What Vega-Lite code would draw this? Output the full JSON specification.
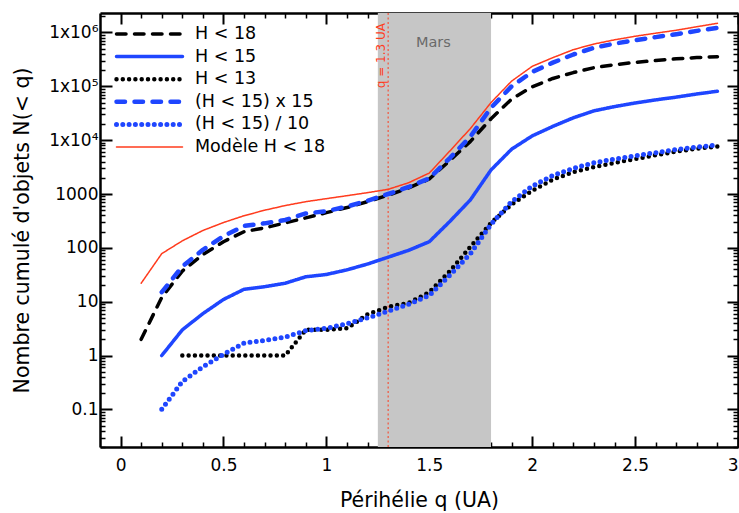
{
  "$schema": "https://vega.github.io/schema/vega-lite/v6.json",
  "width": 638,
  "height": 434,
  "autosize": {"type": "none"},
  "padding": {"left": 100, "top": 13, "right": 1, "bottom": 66},
  "config": {
    "font": "DejaVu Sans",
    "view": {"stroke": null},
    "axis": {"grid": false, "tickColor": "black", "domainColor": "black", "labelColor": "black", "titleColor": "black", "labelFont": "DejaVu Sans", "titleFont": "DejaVu Sans", "titleFontWeight": "normal"}
  },
  "datasets": {
    "courbes": [
      {"q": 0.1, "N": 2, "serie": "H < 18"},
      {"q": 0.2, "N": 12, "serie": "H < 18"},
      {"q": 0.3, "N": 37, "serie": "H < 18"},
      {"q": 0.4, "N": 75, "serie": "H < 18"},
      {"q": 0.5, "N": 130, "serie": "H < 18"},
      {"q": 0.6, "N": 200, "serie": "H < 18"},
      {"q": 0.7, "N": 235, "serie": "H < 18"},
      {"q": 0.8, "N": 290, "serie": "H < 18"},
      {"q": 0.9, "N": 360, "serie": "H < 18"},
      {"q": 1.0, "N": 450, "serie": "H < 18"},
      {"q": 1.1, "N": 560, "serie": "H < 18"},
      {"q": 1.2, "N": 720, "serie": "H < 18"},
      {"q": 1.3, "N": 950, "serie": "H < 18"},
      {"q": 1.4, "N": 1300, "serie": "H < 18"},
      {"q": 1.5, "N": 1900, "serie": "H < 18"},
      {"q": 1.6, "N": 4200, "serie": "H < 18"},
      {"q": 1.7, "N": 9500, "serie": "H < 18"},
      {"q": 1.8, "N": 25000, "serie": "H < 18"},
      {"q": 1.9, "N": 58000, "serie": "H < 18"},
      {"q": 2.0, "N": 98000, "serie": "H < 18"},
      {"q": 2.1, "N": 140000, "serie": "H < 18"},
      {"q": 2.2, "N": 180000, "serie": "H < 18"},
      {"q": 2.3, "N": 222000, "serie": "H < 18"},
      {"q": 2.4, "N": 252000, "serie": "H < 18"},
      {"q": 2.5, "N": 278000, "serie": "H < 18"},
      {"q": 2.6, "N": 302000, "serie": "H < 18"},
      {"q": 2.7, "N": 324000, "serie": "H < 18"},
      {"q": 2.8, "N": 342000, "serie": "H < 18"},
      {"q": 2.9, "N": 356000, "serie": "H < 18"},

      {"q": 0.2, "N": 1, "serie": "H < 15"},
      {"q": 0.3, "N": 3, "serie": "H < 15"},
      {"q": 0.4, "N": 6, "serie": "H < 15"},
      {"q": 0.5, "N": 11, "serie": "H < 15"},
      {"q": 0.6, "N": 17, "serie": "H < 15"},
      {"q": 0.7, "N": 19, "serie": "H < 15"},
      {"q": 0.8, "N": 22, "serie": "H < 15"},
      {"q": 0.9, "N": 29, "serie": "H < 15"},
      {"q": 1.0, "N": 32, "serie": "H < 15"},
      {"q": 1.1, "N": 39, "serie": "H < 15"},
      {"q": 1.2, "N": 50, "serie": "H < 15"},
      {"q": 1.3, "N": 67, "serie": "H < 15"},
      {"q": 1.4, "N": 90, "serie": "H < 15"},
      {"q": 1.5, "N": 130, "serie": "H < 15"},
      {"q": 1.6, "N": 310, "serie": "H < 15"},
      {"q": 1.7, "N": 780, "serie": "H < 15"},
      {"q": 1.8, "N": 2800, "serie": "H < 15"},
      {"q": 1.9, "N": 6800, "serie": "H < 15"},
      {"q": 2.0, "N": 12000, "serie": "H < 15"},
      {"q": 2.1, "N": 18000, "serie": "H < 15"},
      {"q": 2.2, "N": 26000, "serie": "H < 15"},
      {"q": 2.3, "N": 35000, "serie": "H < 15"},
      {"q": 2.4, "N": 42000, "serie": "H < 15"},
      {"q": 2.5, "N": 49000, "serie": "H < 15"},
      {"q": 2.6, "N": 56000, "serie": "H < 15"},
      {"q": 2.7, "N": 63000, "serie": "H < 15"},
      {"q": 2.8, "N": 72000, "serie": "H < 15"},
      {"q": 2.9, "N": 81000, "serie": "H < 15"},

      {"q": 0.2, "N": 15, "serie": "(H < 15) x 15"},
      {"q": 0.3, "N": 45, "serie": "(H < 15) x 15"},
      {"q": 0.4, "N": 92, "serie": "(H < 15) x 15"},
      {"q": 0.5, "N": 165, "serie": "(H < 15) x 15"},
      {"q": 0.6, "N": 255, "serie": "(H < 15) x 15"},
      {"q": 0.7, "N": 285, "serie": "(H < 15) x 15"},
      {"q": 0.8, "N": 330, "serie": "(H < 15) x 15"},
      {"q": 0.9, "N": 435, "serie": "(H < 15) x 15"},
      {"q": 1.0, "N": 480, "serie": "(H < 15) x 15"},
      {"q": 1.1, "N": 585, "serie": "(H < 15) x 15"},
      {"q": 1.2, "N": 750, "serie": "(H < 15) x 15"},
      {"q": 1.3, "N": 1000, "serie": "(H < 15) x 15"},
      {"q": 1.4, "N": 1350, "serie": "(H < 15) x 15"},
      {"q": 1.5, "N": 1950, "serie": "(H < 15) x 15"},
      {"q": 1.6, "N": 4650, "serie": "(H < 15) x 15"},
      {"q": 1.7, "N": 11700, "serie": "(H < 15) x 15"},
      {"q": 1.8, "N": 40000, "serie": "(H < 15) x 15"},
      {"q": 1.9, "N": 100000, "serie": "(H < 15) x 15"},
      {"q": 2.0, "N": 185000, "serie": "(H < 15) x 15"},
      {"q": 2.1, "N": 275000, "serie": "(H < 15) x 15"},
      {"q": 2.2, "N": 390000, "serie": "(H < 15) x 15"},
      {"q": 2.3, "N": 520000, "serie": "(H < 15) x 15"},
      {"q": 2.4, "N": 620000, "serie": "(H < 15) x 15"},
      {"q": 2.5, "N": 720000, "serie": "(H < 15) x 15"},
      {"q": 2.6, "N": 820000, "serie": "(H < 15) x 15"},
      {"q": 2.7, "N": 930000, "serie": "(H < 15) x 15"},
      {"q": 2.8, "N": 1070000, "serie": "(H < 15) x 15"},
      {"q": 2.9, "N": 1220000, "serie": "(H < 15) x 15"},

      {"q": 0.1, "N": 22, "serie": "Modèle H < 18"},
      {"q": 0.2, "N": 78, "serie": "Modèle H < 18"},
      {"q": 0.3, "N": 135, "serie": "Modèle H < 18"},
      {"q": 0.4, "N": 210, "serie": "Modèle H < 18"},
      {"q": 0.5, "N": 295, "serie": "Modèle H < 18"},
      {"q": 0.6, "N": 395, "serie": "Modèle H < 18"},
      {"q": 0.7, "N": 500, "serie": "Modèle H < 18"},
      {"q": 0.8, "N": 610, "serie": "Modèle H < 18"},
      {"q": 0.9, "N": 720, "serie": "Modèle H < 18"},
      {"q": 1.0, "N": 820, "serie": "Modèle H < 18"},
      {"q": 1.1, "N": 930, "serie": "Modèle H < 18"},
      {"q": 1.2, "N": 1060, "serie": "Modèle H < 18"},
      {"q": 1.3, "N": 1220, "serie": "Modèle H < 18"},
      {"q": 1.4, "N": 1620, "serie": "Modèle H < 18"},
      {"q": 1.5, "N": 2450, "serie": "Modèle H < 18"},
      {"q": 1.6, "N": 6300, "serie": "Modèle H < 18"},
      {"q": 1.7, "N": 16500, "serie": "Modèle H < 18"},
      {"q": 1.8, "N": 50000, "serie": "Modèle H < 18"},
      {"q": 1.9, "N": 125000, "serie": "Modèle H < 18"},
      {"q": 2.0, "N": 235000, "serie": "Modèle H < 18"},
      {"q": 2.1, "N": 340000, "serie": "Modèle H < 18"},
      {"q": 2.2, "N": 480000, "serie": "Modèle H < 18"},
      {"q": 2.3, "N": 610000, "serie": "Modèle H < 18"},
      {"q": 2.4, "N": 730000, "serie": "Modèle H < 18"},
      {"q": 2.5, "N": 850000, "serie": "Modèle H < 18"},
      {"q": 2.6, "N": 970000, "serie": "Modèle H < 18"},
      {"q": 2.7, "N": 1100000, "serie": "Modèle H < 18"},
      {"q": 2.8, "N": 1280000, "serie": "Modèle H < 18"},
      {"q": 2.9, "N": 1480000, "serie": "Modèle H < 18"},

      {"q": 0.3, "N": 1, "serie": "H < 13"},
      {"q": 0.4, "N": 1, "serie": "H < 13"},
      {"q": 0.5, "N": 1, "serie": "H < 13"},
      {"q": 0.6, "N": 1, "serie": "H < 13"},
      {"q": 0.7, "N": 1, "serie": "H < 13"},
      {"q": 0.8, "N": 1, "serie": "H < 13"},
      {"q": 0.9, "N": 3, "serie": "H < 13"},
      {"q": 1.0, "N": 3, "serie": "H < 13"},
      {"q": 1.1, "N": 3.2, "serie": "H < 13"},
      {"q": 1.2, "N": 5.8, "serie": "H < 13"},
      {"q": 1.3, "N": 8, "serie": "H < 13"},
      {"q": 1.4, "N": 9.5, "serie": "H < 13"},
      {"q": 1.5, "N": 15, "serie": "H < 13"},
      {"q": 1.6, "N": 37, "serie": "H < 13"},
      {"q": 1.7, "N": 105, "serie": "H < 13"},
      {"q": 1.8, "N": 290, "serie": "H < 13"},
      {"q": 1.9, "N": 640, "serie": "H < 13"},
      {"q": 2.0, "N": 1150, "serie": "H < 13"},
      {"q": 2.1, "N": 1850, "serie": "H < 13"},
      {"q": 2.2, "N": 2550, "serie": "H < 13"},
      {"q": 2.3, "N": 3150, "serie": "H < 13"},
      {"q": 2.4, "N": 3800, "serie": "H < 13"},
      {"q": 2.5, "N": 4450, "serie": "H < 13"},
      {"q": 2.6, "N": 5250, "serie": "H < 13"},
      {"q": 2.7, "N": 6150, "serie": "H < 13"},
      {"q": 2.8, "N": 6950, "serie": "H < 13"},
      {"q": 2.9, "N": 7600, "serie": "H < 13"},

      {"q": 0.2, "N": 0.1, "serie": "(H < 15) / 10"},
      {"q": 0.3, "N": 0.33, "serie": "(H < 15) / 10"},
      {"q": 0.4, "N": 0.62, "serie": "(H < 15) / 10"},
      {"q": 0.5, "N": 1.05, "serie": "(H < 15) / 10"},
      {"q": 0.6, "N": 1.7, "serie": "(H < 15) / 10"},
      {"q": 0.7, "N": 1.9, "serie": "(H < 15) / 10"},
      {"q": 0.8, "N": 2.2, "serie": "(H < 15) / 10"},
      {"q": 0.9, "N": 2.9, "serie": "(H < 15) / 10"},
      {"q": 1.0, "N": 3.2, "serie": "(H < 15) / 10"},
      {"q": 1.1, "N": 3.9, "serie": "(H < 15) / 10"},
      {"q": 1.2, "N": 5.0, "serie": "(H < 15) / 10"},
      {"q": 1.3, "N": 6.7, "serie": "(H < 15) / 10"},
      {"q": 1.4, "N": 9, "serie": "(H < 15) / 10"},
      {"q": 1.5, "N": 13, "serie": "(H < 15) / 10"},
      {"q": 1.6, "N": 31, "serie": "(H < 15) / 10"},
      {"q": 1.7, "N": 78, "serie": "(H < 15) / 10"},
      {"q": 1.8, "N": 275, "serie": "(H < 15) / 10"},
      {"q": 1.9, "N": 720, "serie": "(H < 15) / 10"},
      {"q": 2.0, "N": 1400, "serie": "(H < 15) / 10"},
      {"q": 2.1, "N": 2200, "serie": "(H < 15) / 10"},
      {"q": 2.2, "N": 3000, "serie": "(H < 15) / 10"},
      {"q": 2.3, "N": 3800, "serie": "(H < 15) / 10"},
      {"q": 2.4, "N": 4450, "serie": "(H < 15) / 10"},
      {"q": 2.5, "N": 5100, "serie": "(H < 15) / 10"},
      {"q": 2.6, "N": 5850, "serie": "(H < 15) / 10"},
      {"q": 2.7, "N": 6700, "serie": "(H < 15) / 10"},
      {"q": 2.8, "N": 7450, "serie": "(H < 15) / 10"},
      {"q": 2.9, "N": 8100, "serie": "(H < 15) / 10"}
    ]
  },
  "resolve": {"axis": {"x": "independent", "y": "independent"}},
  "layer": [
    {
      "data": {"values": [{"debut": 1.25, "fin": 1.8}]},
      "mark": {"type": "rect", "color": "#c6c6c6"},
      "encoding": {
        "x": {"field": "debut", "type": "quantitative", "scale": {"domain": [-0.1, 3.0], "nice": false, "zero": false},
          "axis": {"orient": "bottom", "values": [0, 0.5, 1, 1.5, 2, 2.5, 3], "format": "~g", "tickSize": -11, "tickWidth": 2, "labelFontSize": 17, "labelPadding": 21, "domain": true, "domainWidth": 2.5, "title": "Périhélie q (UA)", "titleFontSize": 20.5, "titlePadding": 17}},
        "x2": {"field": "fin"}
      }
    },
    {
      "data": {"values": [{"q": 1.3}]},
      "mark": {"type": "rule", "color": "#ff3c1e", "strokeWidth": 1, "strokeDash": [2, 2.5]},
      "encoding": {
        "x": {"field": "q", "type": "quantitative", "scale": {"domain": [-0.1, 3.0], "nice": false, "zero": false},
          "axis": {"orient": "bottom", "values": [0.1,0.2,0.3,0.4,0.6,0.7,0.8,0.9,1.1,1.2,1.3,1.4,1.6,1.7,1.8,1.9,2.1,2.2,2.3,2.4,2.6,2.7,2.8,2.9], "tickSize": -5, "tickWidth": 1.5, "labels": false, "domain": false, "title": null}}
      }
    },
    {
      "data": {"values": [{"q": 1.3, "N": 1500000, "label": "q = 1.3 UA"}]},
      "mark": {"type": "text", "angle": 270, "align": "right", "baseline": "bottom", "fontSize": 12, "color": "#ff3c1e"},
      "encoding": {
        "x": {"field": "q", "type": "quantitative", "scale": {"domain": [-0.1, 3.0], "nice": false, "zero": false},
          "axis": {"orient": "top", "values": [0, 0.5, 1, 1.5, 2, 2.5, 3], "tickSize": -11, "tickWidth": 2, "labels": false, "domain": true, "domainWidth": 2.5, "title": null}},
        "y": {"field": "N", "type": "quantitative", "scale": {"type": "log", "domain": [0.02, 2300000], "nice": false},
          "axis": {"orient": "right", "values": [0.1, 1, 10, 100, 1000, 10000, 100000, 1000000], "tickSize": -11, "tickWidth": 2, "labels": false, "domain": true, "domainWidth": 2.5, "title": null}},
        "text": {"field": "label"}
      }
    },
    {
      "data": {"values": [{"q": 1.52, "N": 640000, "label": "Mars"}]},
      "mark": {"type": "text", "align": "center", "baseline": "middle", "fontSize": 14.5, "color": "#6a6a6a"},
      "encoding": {
        "x": {"field": "q", "type": "quantitative", "scale": {"domain": [-0.1, 3.0], "nice": false, "zero": false},
          "axis": {"orient": "top", "values": [0.1,0.2,0.3,0.4,0.6,0.7,0.8,0.9,1.1,1.2,1.3,1.4,1.6,1.7,1.8,1.9,2.1,2.2,2.3,2.4,2.6,2.7,2.8,2.9], "tickSize": -5, "tickWidth": 1.5, "labels": false, "domain": false, "title": null}},
        "y": {"field": "N", "type": "quantitative", "scale": {"type": "log", "domain": [0.02, 2300000], "nice": false},
          "axis": {"orient": "right", "values": [0.02,0.03,0.04,0.05,0.06,0.07,0.08,0.09,0.2,0.3,0.4,0.5,0.6,0.7,0.8,0.9,2,3,4,5,6,7,8,9,20,30,40,50,60,70,80,90,200,300,400,500,600,700,800,900,2000,3000,4000,5000,6000,7000,8000,9000,20000,30000,40000,50000,60000,70000,80000,90000,200000,300000,400000,500000,600000,700000,800000,900000,2000000], "tickSize": -5, "tickWidth": 1.5, "labels": false, "domain": false, "title": null}},
        "text": {"field": "label"}
      }
    },
    {
      "data": {"name": "courbes"},
      "transform": [{"filter": {"field": "serie", "oneOf": ["H < 18", "H < 15", "(H < 15) x 15", "Modèle H < 18"]}}],
      "mark": {"type": "line", "strokeCap": "round", "strokeJoin": "round"},
      "encoding": {
        "x": {"field": "q", "type": "quantitative", "scale": {"domain": [-0.1, 3.0], "nice": false, "zero": false}, "axis": null},
        "y": {"field": "N", "type": "quantitative", "scale": {"type": "log", "domain": [0.02, 2300000], "nice": false},
          "axis": {"orient": "left", "values": [0.1, 1, 10, 100, 1000, 10000, 100000, 1000000], "labelExpr": "datum.value == 1000000 ? '1x10⁶' : datum.value == 100000 ? '1x10⁵' : datum.value == 10000 ? '1x10⁴' : datum.value == 0.1 ? '0.1' : format(datum.value, 'd')", "tickSize": -12, "tickWidth": 2, "labelFontSize": 17, "labelPadding": 14, "domain": true, "domainWidth": 2.5, "title": "Nombre cumulé d'objets N(< q)", "titleFontSize": 20.5, "titlePadding": 16}},
        "color": {"field": "serie", "type": "nominal",
          "scale": {"domain": ["H < 18", "H < 15", "H < 13", "(H < 15) x 15", "(H < 15) / 10", "Modèle H < 18"], "range": ["#000000", "#1f46ff", "#000000", "#1f46ff", "#1f46ff", "#ff3c1e"]},
          "legend": {"orient": "none", "legendX": 14, "legendY": 12, "padding": 0, "title": null, "labelFontSize": 17.5, "labelOffset": 10, "symbolType": "stroke", "symbolSize": 4356, "clipHeight": 18, "rowPadding": 4.6, "labelColor": "black",
            "encode": {"symbols": {"update": {"strokeCap": {"value": "round"}}}}}},
        "strokeDash": {"field": "serie", "type": "nominal",
          "scale": {"domain": ["H < 18", "H < 15", "H < 13", "(H < 15) x 15", "(H < 15) / 10", "Modèle H < 18"], "range": [[9.5, 8.5], [1, 0], [0, 6.3], [8.5, 9.5], [0, 6.3], [1, 0]]}},
        "strokeWidth": {"field": "serie", "type": "nominal",
          "scale": {"type": "ordinal", "domain": ["H < 18", "H < 15", "H < 13", "(H < 15) x 15", "(H < 15) / 10", "Modèle H < 18"], "range": [3.5, 3.5, 4.5, 4.5, 5, 1.5]}}
      }
    },
    {
      "data": {"name": "courbes"},
      "transform": [{"filter": {"field": "serie", "oneOf": ["H < 13", "(H < 15) / 10"]}}],
      "mark": {"type": "line", "strokeCap": "round", "strokeJoin": "round"},
      "encoding": {
        "x": {"field": "q", "type": "quantitative", "scale": {"domain": [-0.1, 3.0], "nice": false, "zero": false}, "axis": null},
        "y": {"field": "N", "type": "quantitative", "scale": {"type": "log", "domain": [0.02, 2300000], "nice": false},
          "axis": {"orient": "left", "values": [0.02,0.03,0.04,0.05,0.06,0.07,0.08,0.09,0.2,0.3,0.4,0.5,0.6,0.7,0.8,0.9,2,3,4,5,6,7,8,9,20,30,40,50,60,70,80,90,200,300,400,500,600,700,800,900,2000,3000,4000,5000,6000,7000,8000,9000,20000,30000,40000,50000,60000,70000,80000,90000,200000,300000,400000,500000,600000,700000,800000,900000,2000000], "tickSize": -5, "tickWidth": 1.5, "labels": false, "domain": false, "title": null}},
        "color": {"field": "serie", "type": "nominal",
          "scale": {"domain": ["H < 18", "H < 15", "H < 13", "(H < 15) x 15", "(H < 15) / 10", "Modèle H < 18"], "range": ["#000000", "#1f46ff", "#000000", "#1f46ff", "#1f46ff", "#ff3c1e"]}},
        "strokeDash": {"field": "serie", "type": "nominal",
          "scale": {"domain": ["H < 18", "H < 15", "H < 13", "(H < 15) x 15", "(H < 15) / 10", "Modèle H < 18"], "range": [[9.5, 8.5], [1, 0], [0, 6.3], [8.5, 9.5], [0, 6.3], [1, 0]]}},
        "strokeWidth": {"field": "serie", "type": "nominal",
          "scale": {"type": "ordinal", "domain": ["H < 18", "H < 15", "H < 13", "(H < 15) x 15", "(H < 15) / 10", "Modèle H < 18"], "range": [3.5, 3.5, 4.5, 4.5, 5, 1.5]}}
      }
    }
  ]
}
